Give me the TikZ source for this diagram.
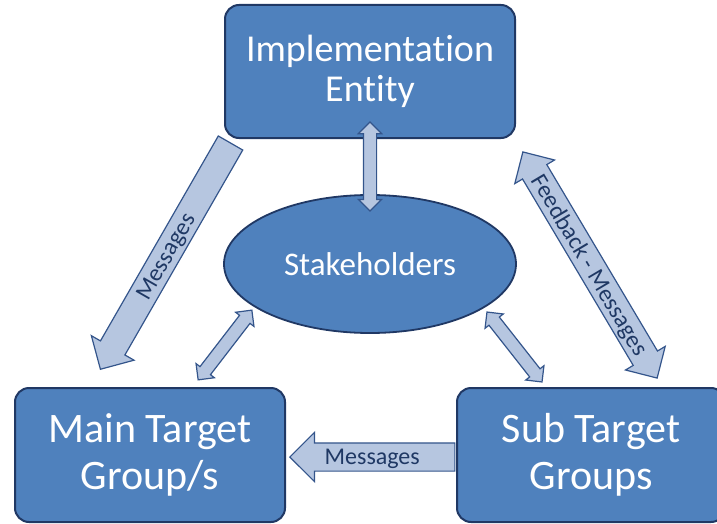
\documentclass[tikz,border=0pt]{standalone}
\usepackage{fontspec}
\setmainfont{Carlito}[Ligatures={NoCommon}]
\usepackage{tikz}
\usetikzlibrary{shapes.geometric, shapes.arrows, positioning, calc}
\usepackage{xcolor}
\definecolor{boxfill}{HTML}{4F81BD}
\definecolor{boxline}{HTML}{203864}
\definecolor{arrowfill}{HTML}{B6C6E0}
\definecolor{arrowline}{HTML}{34558B}
\definecolor{labeltext}{HTML}{1F3864}

\begin{document}
\begin{tikzpicture}[x=1pt, y=-1pt,
    box/.style={rectangle, rounded corners=14pt, draw=boxline, line width=2pt, fill=boxfill, text=white, align=center},
    blob/.style={ellipse, draw=boxline, line width=1.8pt, fill=boxfill, text=white, font=\fontsize{33}{36}\selectfont},
    fatarrow/.style={single arrow, draw=arrowline, fill=arrowfill, line width=1.2pt, inner xsep=0pt, inner ysep=0pt,
        text height=27pt, text depth=0pt, single arrow head extend=10.5pt, single arrow head indent=0pt, anchor=tip},
    fatdouble/.style={double arrow, draw=arrowline, fill=arrowfill, line width=1.2pt, inner xsep=0pt, inner ysep=0pt,
        text height=27pt, text depth=0pt, double arrow head extend=9pt, double arrow head indent=0pt},
    thindouble/.style={double arrow, draw=arrowline, fill=arrowfill, line width=1.2pt, inner sep=0pt,
        text height=12pt, text depth=0pt, double arrow head extend=5pt, double arrow head indent=0pt},
    arrowlabel/.style={text=labeltext, inner sep=0pt, text height=15.5pt, text depth=0pt, font=\fontsize{24}{26}\selectfont}
]
\useasboundingbox (0,0) rectangle (717,524);

\node[box, minimum width=290pt, minimum height=133pt, font=\fontsize{38}{40}\selectfont] (impl) at (370,71.5) {Implementation\\Entity};
\node[blob, minimum width=292pt, minimum height=138pt] (stake) at (370,264) {Stakeholders};
\node[box, minimum width=270pt, minimum height=134pt, font=\fontsize{42}{47}\selectfont] (main) at (150,455) {Main Target\\Group/s};
\node[box, minimum width=268pt, minimum height=134pt, font=\fontsize{42}{47}\selectfont] (sub) at (591,455) {Sub Target\\Groups};

\node[fatarrow, minimum height=261pt, rotate=240.1] (msgmain) at (100,370) {};
\node[fatdouble, minimum height=263pt, rotate=-59.3] (feedback) at (590,265) {};
\node[fatarrow, minimum height=165pt, rotate=180] (msgsub) at ($(main.east)+(3,2)$) {};

\node[arrowlabel, rotate=60.1] (msgmainlabel) at ($(msgmain.tip)!0.5!(msgmain.tail)$) {Messages};
\node[arrowlabel, rotate=-59.3] (feedbacklabel) at (feedback.center) {Feedback - Messages};
\node[arrowlabel] (msgsublabel) at ($(msgsub.tip)!0.5!(msgsub.tail)$) {Messages};

\node[thindouble, minimum height=89pt, rotate=90] (implstake) at ($(impl.south)!0.5!(stake.north)$) {};
\node[thindouble, minimum height=88pt, rotate=52.4] (mainstake) at (225,345) {};
\node[thindouble, minimum height=89pt, rotate=-51.8] (substake) at (514.5,347) {};

\end{tikzpicture}
\end{document}
